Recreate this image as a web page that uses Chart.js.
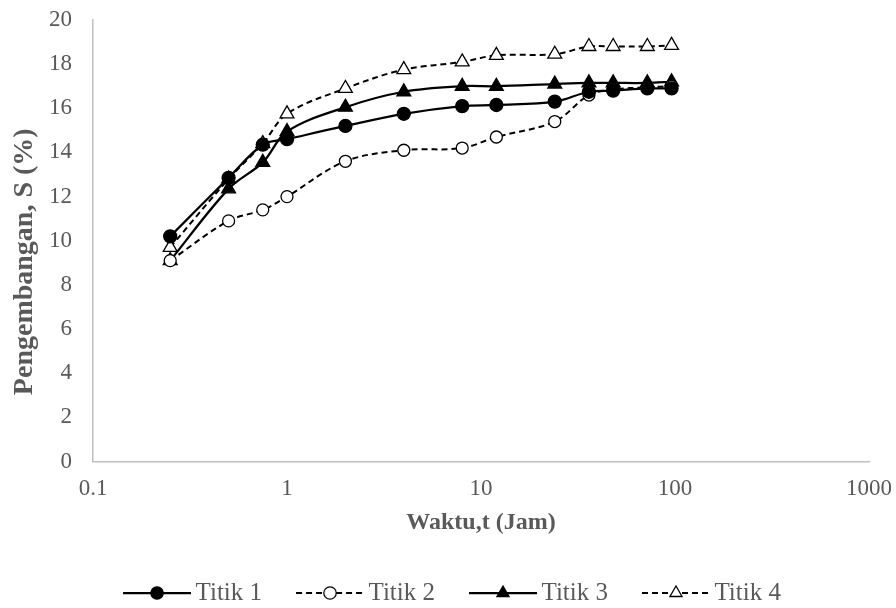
<!DOCTYPE html>
<html>
<head>
<meta charset="utf-8">
<script src="https://cdn.jsdelivr.net/npm/chart.js@4/dist/chart.umd.min.js"></script>
<style>
  html, body { margin: 0; padding: 0; background: #fff; }
  #chart { display: block; }
</style>
</head>
<body>
<canvas id="chart" width="896" height="608"></canvas>
<script>
// Data
const hours = [0.25, 0.5, 0.75, 1, 2, 4, 8, 12, 24, 36, 48, 72, 96];
const titik1 = [10.2, 12.85, 14.35, 14.6, 15.2, 15.75, 16.1, 16.15, 16.3, 16.75, 16.8, 16.9, 16.9];
const titik2 = [9.1, 10.9, 11.4, 12.0, 13.6, 14.1, 14.2, 14.7, 15.4, 16.6, 16.85, 16.95, 17.0];
const titik3 = [9.1, 12.35, 13.55, 14.95, 16.05, 16.75, 17.0, 17.0, 17.1, 17.15, 17.15, 17.15, 17.2];
const titik4 = [9.7, 12.8, 14.4, 15.75, 16.9, 17.75, 18.1, 18.4, 18.45, 18.8, 18.8, 18.8, 18.85];
const seriesNames = ['Titik 1', 'Titik 2', 'Titik 3', 'Titik 4'];
const xTickValues = [0.1, 1, 10, 100, 1000];
const xTickLabels = ['0.1', '1', '10', '100', '1000'];

const textGray = '#595959';
const axisGray = '#bfbfbf';
const serif = "'Liberation Serif', 'Times New Roman', serif";

// Series looks
const styles = [
    { dash: [], marker: 'circle', fill: '#000', radius: 6.5 },
    { dash: [6, 4], marker: 'circle', fill: '#fff', radius: 6 },
    { dash: [], marker: 'triangle', fill: '#000', radius: 8 },
    { dash: [6, 4], marker: 'triangle', fill: '#fff', radius: 8 }
];

// Legend geometry: line sample before each label
const legendFont = 25;
const legendBoxW = 91;
const legendLineLen = 68;
const legendGap = 4.5;

function toPoints(values) {
    return hours.map((h, i) => ({ x: h, y: values[i] }));
}

// Legend sample: a line with the marker in the middle.
// Chart.js centres the image at boxW/2, text starts at boxW + font/2.
function legendIcon(style) {
    const lineEnd = legendBoxW + legendFont / 2 - legendGap;
    const lineStart = lineEnd - legendLineLen;
    const half = Math.max(legendBoxW / 2 - lineStart, lineEnd - legendBoxW / 2);
    const c = document.createElement('canvas');
    c.width = Math.ceil(half * 2);
    c.height = 20;
    const off = c.width / 2 - legendBoxW / 2;
    const g = c.getContext('2d');
    const y = 10;
    g.strokeStyle = '#000';
    g.lineWidth = style.dash.length ? 2 : 2.25;
    g.setLineDash(style.dash);
    g.beginPath();
    g.moveTo(lineStart + off, y);
    g.lineTo(lineEnd + off, y);
    g.stroke();
    g.setLineDash([]);
    g.lineWidth = 1.3;
    g.fillStyle = style.fill;
    const cx = (lineStart + lineEnd) / 2 + off;
    g.beginPath();
    if (style.marker === 'circle') {
        g.arc(cx, y, 6.2, 0, Math.PI * 2);
    } else {
        const r = 7;
        g.moveTo(cx, y - r);
        g.lineTo(cx + r * 0.866, y + r * 0.5);
        g.lineTo(cx - r * 0.866, y + r * 0.5);
        g.closePath();
    }
    g.fill();
    g.stroke();
    return c;
}

const allSeries = [titik1, titik2, titik3, titik4];
const datasets = allSeries.map((values, i) => ({
    label: seriesNames[i],
    data: toPoints(values),
    borderColor: '#000',
    borderWidth: styles[i].dash.length ? 2 : 2.25,
    borderDash: styles[i].dash,
    tension: 0.35,
    fill: false,
    pointStyle: styles[i].marker,
    pointRadius: styles[i].radius,
    pointBackgroundColor: styles[i].fill,
    pointBorderColor: '#000',
    pointBorderWidth: 1.3,
    legendIcon: legendIcon(styles[i])
}));

new Chart(document.getElementById('chart'), {
    type: 'line',
    data: { datasets },
    options: {
        responsive: false,
        animation: false,
        devicePixelRatio: 1,
        layout: { padding: { left: 4, right: 27, top: 20, bottom: -7.5 } },
        plugins: {
            tooltip: { enabled: false },
            legend: {
                position: 'bottom',
                labels: {
                    usePointStyle: true,
                    pointStyleWidth: legendBoxW,
                    padding: 3,
                    color: textGray,
                    font: { family: serif, size: legendFont },
                    generateLabels: (chart) => chart.data.datasets.map((ds, i) => ({
                        text: ds.label,
                        pointStyle: ds.legendIcon,
                        fillStyle: '#000',
                        strokeStyle: '#000',
                        lineWidth: 0,
                        fontColor: textGray,
                        datasetIndex: i,
                        hidden: false
                    }))
                }
            }
        },
        scales: {
            x: {
                type: 'logarithmic',
                min: 0.1,
                max: 1000,
                afterBuildTicks: (scale) => {
                    scale.ticks = xTickValues.map(v => ({ value: v }));
                },
                afterFit: (scale) => {
                    scale.height = 116;
                    scale.paddingLeft = 0;
                    scale.paddingRight = 0;
                },
                ticks: {
                    autoSkip: false,
                    maxRotation: 0,
                    padding: 14,
                    color: textGray,
                    font: { family: serif, size: 23 },
                    callback: (value) => xTickLabels[xTickValues.indexOf(value)] ?? ''
                },
                grid: { display: false, drawTicks: false },
                border: { display: true, color: axisGray, width: 1.5 },
                title: {
                    display: true,
                    text: 'Waktu,t (Jam)',
                    color: textGray,
                    font: { family: serif, size: 24, weight: 'bold' },
                    padding: { top: 0, bottom: 40 }
                }
            },
            y: {
                min: 0,
                max: 20,
                afterFit: (scale) => {
                    scale.width = 89;
                    scale.paddingTop = 0;
                    scale.paddingBottom = 0;
                },
                ticks: {
                    stepSize: 2,
                    padding: 21,
                    color: textGray,
                    font: { family: serif, size: 23 }
                },
                grid: { display: false, drawTicks: false },
                border: { display: true, color: axisGray, width: 1.5 },
                title: {
                    display: true,
                    text: 'Pengembangan, S (%)\u00a0\u00a0\u00a0\u00a0\u00a0\u00a0',
                    color: textGray,
                    font: { family: serif, size: 28, weight: 'bold' },
                    padding: { top: 4, bottom: 0 }
                }
            }
        }
    }
});
</script>
</body>
</html>
